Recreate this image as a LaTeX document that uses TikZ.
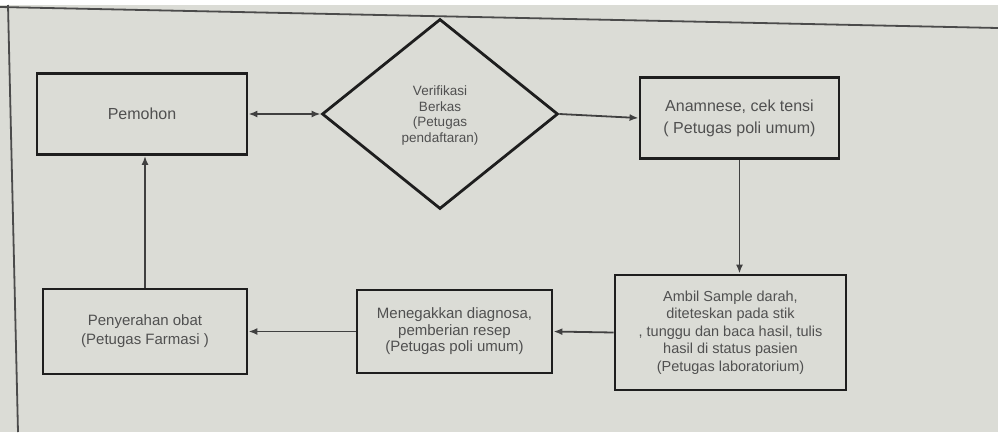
\documentclass[tikz,border=0pt]{standalone}
\usepackage{fontspec}
\setmainfont{Liberation Sans}
\usetikzlibrary{shapes.geometric,arrows.meta}
\definecolor{bg}{RGB}{219,220,214}
\definecolor{txt}{RGB}{80,80,80}
\definecolor{ln}{RGB}{30,30,30}
\begin{document}
\begin{tikzpicture}[x=1pt,y=-1pt,
 box/.style={draw=ln,line width=2.8pt,text=txt,align=center,inner sep=0pt},
 tip/.tip={Latex[length=9pt,width=7pt]},
 conn/.style={draw=ln!85,line width=1.8pt,-tip},
 frameline/.style={draw=ln!80,line width=1.8pt},
]
\useasboundingbox (0,0) rectangle (998,432);
\fill[bg] (0,0) rectangle (998,432);
\fill[white] (0,0) rectangle (998,5);
\coordinate (ft1) at (0,7);
\coordinate (ft2) at (998,28);
\coordinate (fl1) at (8,5);
\coordinate (fl2) at (18,432);
\draw[frameline] (ft1) -- (ft2);
\draw[frameline] (fl1) -- (fl2);

\node[box,minimum width=210pt,minimum height=81pt,font=\fontsize{16}{20}\selectfont] (pem) at (142,114) {Pemohon};
\node[box,shape=diamond,minimum width=236pt,minimum height=190pt,font=\fontsize{13.5}{15.7}\selectfont,text depth=0pt] (ver) at (440,114) {Verifikasi\\Berkas\\(Petugas\\pendaftaran)};
\node[box,minimum width=199pt,minimum height=81pt,font=\fontsize{16}{22}\selectfont] (ana) at (739.5,118) {Anamnese, cek tensi\\( Petugas poli umum)};
\node[box,minimum width=231pt,minimum height=115pt,font=\fontsize{14.5}{17.5}\selectfont] (amb) at (730.5,332.5) {Ambil Sample darah,\\diteteskan pada stik\\, tunggu dan baca hasil, tulis\\hasil di status pasien\\(Petugas laboratorium)};
\node[box,minimum width=195pt,minimum height=83pt,font=\fontsize{15}{16.5}\selectfont] (men) at (454.5,331.5) {Menegakkan diagnosa,\\pemberian resep\\(Petugas poli umum)};
\node[box,minimum width=204pt,minimum height=85pt,font=\fontsize{15}{19}\selectfont] (pen) at (145,331.5) {Penyerahan obat\\(Petugas Farmasi )};

\draw[conn,tip-tip] (pem.east) -- (ver.west);
\draw[conn] (ver.east) -- (ana.west);
\draw[conn] (ana.south) -- (ana.south |- amb.north);
\draw[conn] (amb.west) -- (men.east);
\draw[conn] (men.west) -- (pen.east);
\draw[conn] (pen.north) -- (pen.north |- pem.south);
\end{tikzpicture}
\end{document}
